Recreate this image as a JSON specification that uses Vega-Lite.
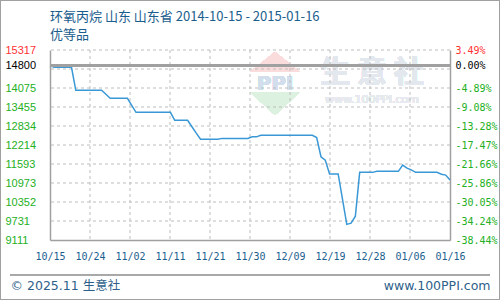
{
  "$schema": "https://vega.github.io/schema/vega-lite/v6.json",
  "width": 400,
  "height": 190,
  "autosize": {"type": "none"},
  "padding": {"left": 50, "top": 50, "right": 50, "bottom": 60},
  "background": "#ffffff",
  "config": {"view": {"stroke": null}, "font": "Liberation Sans"},
  "title": {
    "text": "环氧丙烷 山东 山东省 2014-10-15 - 2015-01-16",
    "subtitle": "优等品",
    "anchor": "start",
    "frame": "group",
    "offset": -42,
    "font": "Noto Sans CJK SC",
    "fontSize": 13,
    "fontWeight": "normal",
    "color": "#1b5e8e",
    "subtitleFont": "Noto Sans CJK SC",
    "subtitleFontSize": 13,
    "subtitleColor": "#1b5e8e",
    "subtitlePadding": 5
  },
  "data": {
    "values": [
      {"date": "2014-10-15", "price": 14800},
      {"date": "2014-10-16", "price": 14750},
      {"date": "2014-10-17", "price": 14750},
      {"date": "2014-10-18", "price": 14750},
      {"date": "2014-10-19", "price": 14750},
      {"date": "2014-10-20", "price": 14750},
      {"date": "2014-10-21", "price": 14000},
      {"date": "2014-10-22", "price": 14000},
      {"date": "2014-10-23", "price": 14000},
      {"date": "2014-10-24", "price": 14000},
      {"date": "2014-10-25", "price": 14000},
      {"date": "2014-10-26", "price": 14000},
      {"date": "2014-10-27", "price": 14000},
      {"date": "2014-10-28", "price": 13870},
      {"date": "2014-10-29", "price": 13740},
      {"date": "2014-10-30", "price": 13740},
      {"date": "2014-10-31", "price": 13740},
      {"date": "2014-11-01", "price": 13740},
      {"date": "2014-11-02", "price": 13740},
      {"date": "2014-11-03", "price": 13510},
      {"date": "2014-11-04", "price": 13280},
      {"date": "2014-11-05", "price": 13280},
      {"date": "2014-11-06", "price": 13280},
      {"date": "2014-11-07", "price": 13280},
      {"date": "2014-11-08", "price": 13280},
      {"date": "2014-11-09", "price": 13280},
      {"date": "2014-11-10", "price": 13280},
      {"date": "2014-11-11", "price": 13280},
      {"date": "2014-11-12", "price": 13280},
      {"date": "2014-11-13", "price": 13020},
      {"date": "2014-11-14", "price": 13020},
      {"date": "2014-11-15", "price": 13020},
      {"date": "2014-11-16", "price": 13020},
      {"date": "2014-11-17", "price": 12810},
      {"date": "2014-11-18", "price": 12600},
      {"date": "2014-11-19", "price": 12400},
      {"date": "2014-11-20", "price": 12400},
      {"date": "2014-11-21", "price": 12400},
      {"date": "2014-11-22", "price": 12400},
      {"date": "2014-11-23", "price": 12400},
      {"date": "2014-11-24", "price": 12430},
      {"date": "2014-11-25", "price": 12430},
      {"date": "2014-11-26", "price": 12430},
      {"date": "2014-11-27", "price": 12430},
      {"date": "2014-11-28", "price": 12430},
      {"date": "2014-11-29", "price": 12430},
      {"date": "2014-11-30", "price": 12430},
      {"date": "2014-12-01", "price": 12480},
      {"date": "2014-12-02", "price": 12480},
      {"date": "2014-12-03", "price": 12530},
      {"date": "2014-12-04", "price": 12530},
      {"date": "2014-12-05", "price": 12530},
      {"date": "2014-12-06", "price": 12530},
      {"date": "2014-12-07", "price": 12530},
      {"date": "2014-12-08", "price": 12530},
      {"date": "2014-12-09", "price": 12530},
      {"date": "2014-12-10", "price": 12530},
      {"date": "2014-12-11", "price": 12530},
      {"date": "2014-12-12", "price": 12530},
      {"date": "2014-12-13", "price": 12530},
      {"date": "2014-12-14", "price": 12530},
      {"date": "2014-12-15", "price": 12530},
      {"date": "2014-12-16", "price": 12460},
      {"date": "2014-12-17", "price": 11830},
      {"date": "2014-12-18", "price": 11720},
      {"date": "2014-12-19", "price": 11270},
      {"date": "2014-12-20", "price": 11270},
      {"date": "2014-12-21", "price": 11270},
      {"date": "2014-12-22", "price": 10450},
      {"date": "2014-12-23", "price": 9620},
      {"date": "2014-12-24", "price": 9660},
      {"date": "2014-12-25", "price": 9890},
      {"date": "2014-12-26", "price": 11320},
      {"date": "2014-12-27", "price": 11320},
      {"date": "2014-12-28", "price": 11320},
      {"date": "2014-12-29", "price": 11320},
      {"date": "2014-12-30", "price": 11355},
      {"date": "2014-12-31", "price": 11355},
      {"date": "2015-01-01", "price": 11355},
      {"date": "2015-01-02", "price": 11355},
      {"date": "2015-01-03", "price": 11355},
      {"date": "2015-01-04", "price": 11355},
      {"date": "2015-01-05", "price": 11560},
      {"date": "2015-01-06", "price": 11460},
      {"date": "2015-01-07", "price": 11400},
      {"date": "2015-01-08", "price": 11320},
      {"date": "2015-01-09", "price": 11320},
      {"date": "2015-01-10", "price": 11320},
      {"date": "2015-01-11", "price": 11320},
      {"date": "2015-01-12", "price": 11320},
      {"date": "2015-01-13", "price": 11320},
      {"date": "2015-01-14", "price": 11260},
      {"date": "2015-01-15", "price": 11230},
      {"date": "2015-01-16", "price": 11070}
    ]
  },
  "layer": [
    {
      "mark": {"type": "rect", "filled": false, "stroke": "#a0a0a0", "strokeWidth": 1},
      "encoding": {
        "x": {"datum": 1412336844000, "type": "temporal", "scale": {"type": "utc", "domain": [1413331200000, 1421366400000]}, "axis": null},
        "x2": {"datum": 1422360756000},
        "y": {"datum": 16933.8, "type": "quantitative", "scale": {"domain": [9111, 15317], "nice": false, "zero": false}, "axis": null},
        "y2": {"datum": 7167.5}
      }
    },
    {
      "mark": {"type": "rule", "color": "#a8a8a8", "strokeWidth": 1},
      "encoding": {
        "x": {"datum": 1412527680000, "type": "temporal", "scale": {"type": "utc", "domain": [1413331200000, 1421366400000]}, "axis": null},
        "x2": {"datum": 1422169920000},
        "y": {"datum": 7967.8, "type": "quantitative", "scale": {"domain": [9111, 15317], "nice": false, "zero": false}, "axis": null}
      }
    },
    {
      "mark": {"type": "point", "shape": "M-1,0.4L0,-0.4L1,0.4Z", "size": 2500, "filled": true, "color": "#fbdcdc", "opacity": 1},
      "encoding": {
        "x": {"datum": 1417851000000, "type": "temporal", "scale": {"type": "utc", "domain": [1413331200000, 1421366400000]}, "axis": null},
        "y": {"datum": 14925, "type": "quantitative", "scale": {"domain": [9111, 15317], "nice": false, "zero": false}, "axis": null}
      }
    },
    {
      "mark": {"type": "point", "shape": "M-1,-0.46L0,0.46L1,-0.46Z", "size": 2500, "filled": true, "color": "#dcf1df", "opacity": 1},
      "encoding": {
        "x": {"datum": 1417851000000, "type": "temporal", "scale": {"type": "utc", "domain": [1413331200000, 1421366400000]}, "axis": null},
        "y": {"datum": 13569.5, "type": "quantitative", "scale": {"domain": [9111, 15317], "nice": false, "zero": false}, "axis": null}
      }
    },
    {
      "mark": {"type": "text", "text": "PPI", "font": "DejaVu Sans", "fontSize": 20, "fontWeight": "bold", "color": "#d3deec", "baseline": "middle", "align": "center"},
      "encoding": {
        "x": {"datum": 1417851000000, "type": "temporal", "scale": {"type": "utc", "domain": [1413331200000, 1421366400000]}, "axis": null},
        "y": {"datum": 14206, "type": "quantitative", "scale": {"domain": [9111, 15317], "nice": false, "zero": false}, "axis": null}
      }
    },
    {
      "mark": {"type": "text", "text": "生 意 社", "font": "Noto Sans CJK SC", "fontSize": 30, "fontWeight": "bold", "color": "#e3e8ee", "baseline": "middle", "align": "center"},
      "encoding": {
        "x": {"datum": 1419799536000, "type": "temporal", "scale": {"type": "utc", "domain": [1413331200000, 1421366400000]}, "axis": null},
        "y": {"datum": 14565.7, "type": "quantitative", "scale": {"domain": [9111, 15317], "nice": false, "zero": false}, "axis": null}
      }
    },
    {
      "mark": {"type": "text", "text": "www.100PPI.com", "font": "DejaVu Sans", "fontSize": 11, "color": "#e6e9ee", "baseline": "middle", "align": "center"},
      "encoding": {
        "x": {"datum": 1419799536000, "type": "temporal", "scale": {"type": "utc", "domain": [1413331200000, 1421366400000]}, "axis": null},
        "y": {"datum": 13683.8, "type": "quantitative", "scale": {"domain": [9111, 15317], "nice": false, "zero": false}, "axis": null}
      }
    },
    {
      "data": {"values": [{"tick": 9731.6}, {"tick": 10352.2}, {"tick": 10972.8}, {"tick": 11593.4}, {"tick": 12214}, {"tick": 12834.6}, {"tick": 13455.2}, {"tick": 14075.8}, {"tick": 14696.4}, {"tick": 15317}]},
      "mark": {"type": "rule", "color": "#bdbdbd", "strokeWidth": 1, "strokeDash": [3, 3]},
      "encoding": {
        "y": {"field": "tick", "type": "quantitative", "scale": {"domain": [9111, 15317], "nice": false, "zero": false}, "axis": null}
      }
    },
    {
      "data": {"values": [{"tick": 1414134720000}, {"tick": 1414938240000}, {"tick": 1415741760000}, {"tick": 1416545280000}, {"tick": 1417348800000}, {"tick": 1418152320000}, {"tick": 1418955840000}, {"tick": 1419759360000}, {"tick": 1420562880000}]},
      "mark": {"type": "rule", "color": "#bdbdbd", "strokeWidth": 1, "strokeDash": [3, 3]},
      "encoding": {
        "x": {"field": "tick", "type": "temporal", "scale": {"type": "utc", "domain": [1413331200000, 1421366400000]}, "axis": null}
      }
    },
    {
      "mark": {"type": "line", "color": "#3a98d6", "strokeWidth": 1.5},
      "encoding": {
        "x": {
          "field": "date",
          "type": "temporal",
          "scale": {"type": "utc", "domain": [1413331200000, 1421366400000]},
          "axis": {
            "values": [1413331200000, 1414134720000, 1414938240000, 1415741760000, 1416545280000, 1417348800000, 1418152320000, 1418955840000, 1419759360000, 1420562880000, 1421366400000],
            "labelExpr": "utcFormat(datum.value, '%m/%d')",
            "grid": false,
            "ticks": false,
            "domainColor": "#a0a0a0",
            "domainWidth": 1.5,
            "labelFlush": false,
            "labelOverlap": false,
            "labelPadding": 16,
            "labelBaseline": "middle",
            "labelFont": "DejaVu Sans Mono",
            "labelFontSize": 10,
            "labelColor": "#1b5e8e",
            "title": "© 2025.11 生意社",
            "titleX": -40,
            "titleY": 45,
            "titleAlign": "left",
            "titleBaseline": "middle",
            "titleFont": "DejaVu Sans, Noto Sans CJK SC",
            "titleFontSize": 12.5,
            "titleFontWeight": "normal",
            "titleColor": "#2e5f8a"
          }
        },
        "y": {
          "field": "price",
          "type": "quantitative",
          "scale": {"domain": [9111, 15317], "nice": false, "zero": false},
          "axis": {
            "values": [9111, 9731.6, 10352.2, 10972.8, 11593.4, 12214, 12834.6, 13455.2, 14075.8, 14696.4, 15317],
            "labelExpr": "['9111','9731','10352','10973','11593','12214','12834','13455','14075','14800','15317'][indexof([9111,9732,10352,10973,11593,12214,12835,13455,14076,14696,15317], round(datum.value))]",
            "grid": false,
            "ticks": false,
            "domainColor": "#a0a0a0",
            "domainWidth": 1.5,
            "labelAlign": "left",
            "labelBaseline": "middle",
            "labelPadding": 45,
            "labelOverlap": false,
            "labelFont": "Liberation Sans",
            "labelFontSize": 11,
            "labelColor": {"expr": "datum.value > 15000 ? '#ff3333' : (datum.value > 14600 ? '#000000' : '#22b022')"},
            "labelOffset": {"expr": "(datum.value > 14600 && datum.value < 15000) ? -3.2 : 0"},
            "title": null
          }
        }
      }
    },
    {
      "mark": {"type": "rule", "color": "#a0a0a0", "strokeWidth": 2},
      "encoding": {
        "y": {"datum": 14800, "type": "quantitative", "scale": {"domain": [9111, 15317], "nice": false, "zero": false}, "axis": null}
      }
    },
    {
      "mark": {"type": "line", "opacity": 0},
      "encoding": {
        "x": {"field": "date", "type": "temporal", "scale": {"type": "utc", "domain": [1413331200000, 1421366400000]}, "axis": null},
        "y": {
          "field": "price",
          "type": "quantitative",
          "scale": {"domain": [9111, 15317], "nice": false, "zero": false},
          "axis": {
            "orient": "right",
            "values": [9111, 9731.6, 10352.2, 10972.8, 11593.4, 12214, 12834.6, 13455.2, 14075.8, 14696.4, 15317],
            "labelExpr": "['-38.44%','-34.24%','-30.05%','-25.86%','-21.66%','-17.47%','-13.28%','-9.08%','-4.89%','0.00%','3.49%'][indexof([9111,9732,10352,10973,11593,12214,12835,13455,14076,14696,15317], round(datum.value))]",
            "grid": false,
            "ticks": false,
            "domainColor": "#a0a0a0",
            "domainWidth": 1.5,
            "labelAlign": "left",
            "labelBaseline": "middle",
            "labelPadding": 5,
            "labelOverlap": false,
            "labelFont": "DejaVu Sans Mono",
            "labelFontSize": 10,
            "labelColor": {"expr": "datum.value > 15000 ? '#ff3333' : (datum.value > 14600 ? '#000000' : '#22b022')"},
            "labelOffset": {"expr": "(datum.value > 14600 && datum.value < 15000) ? -3.2 : 0"},
            "title": "www.100PPI.com",
            "titleAngle": 0,
            "titleX": 40,
            "titleY": 235,
            "titleAlign": "right",
            "titleBaseline": "middle",
            "titleFont": "DejaVu Sans",
            "titleFontSize": 12.5,
            "titleFontWeight": "normal",
            "titleColor": "#2e5f8a"
          }
        }
      }
    }
  ],
  "resolve": {"scale": {"x": "independent", "y": "independent"}, "axis": {"x": "independent", "y": "independent"}}
}
